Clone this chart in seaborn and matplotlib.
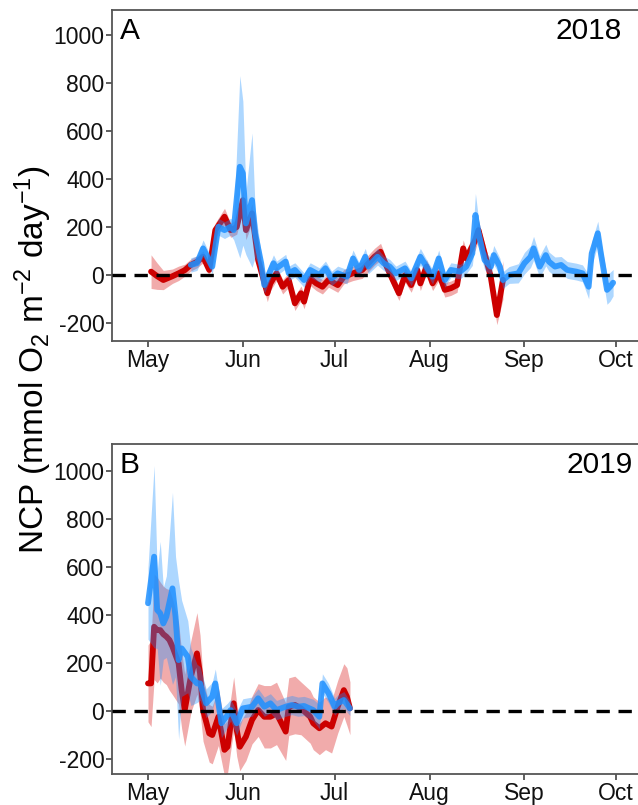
import numpy as np
import pandas as pd
import matplotlib
matplotlib.use("Agg")
import matplotlib.pyplot as plt
import matplotlib.dates as mdates
import seaborn as sns

# ---------------- data (days since May 1) ----------------
a_red_day = [1, 3, 5, 8, 10, 12, 14, 16, 18, 20, 22, 25, 27, 29, 31, 32, 34, 36, 39, 40,
             42, 44, 46, 48, 50, 51, 53, 55, 57, 59, 62, 64, 67, 70, 74, 76, 78, 80, 82, 84,
             86, 88, 89, 91, 93, 95, 97, 99, 101, 103, 104, 107, 108, 110, 112, 114, 116]
a_red_val = [14, -5, -21, -5, 7, 20, 42, 55, 76, 21, 187, 243, 187, 200, 312, 187, 257, 62, -76, -35,
             7, -49, -21, -118, -76, -111, -14, -35, -49, -21, -42, -7, 7, 21, 76, 97, 35, -21, -76, 0,
             -42, 21, -35, 35, -35, 7, -62, -55, -42, 111, 69, 146, 187, 90, -7, -167, -20]
a_red_err = [70, 55, 40, 30, 30, 25, 25, 25, 25, 25, 30, 35, 30, 30, 40, 40, 40, 35, 35, 30,
             30, 30, 30, 30, 30, 30, 30, 30, 30, 30, 30, 30, 30, 35, 35, 35, 30, 30, 30, 30,
             30, 30, 30, 30, 30, 30, 30, 30, 30, 35, 35, 40, 40, 40, 40, 40, 80]

a_blue_day = [14, 16, 18, 21, 23, 25, 27, 28, 30, 31, 32, 34, 35, 37, 38, 41, 42, 45, 46, 48,
              51, 53, 56, 58, 60, 62, 65, 67, 69, 71, 72, 75, 77, 79, 81, 84, 86, 89, 91, 93,
              95, 97, 99, 102, 104, 106, 107, 108, 110, 112, 113, 115, 116, 118, 121, 123, 125, 126, 128, 130,
              131, 133, 135, 137, 140, 142, 144, 145, 147, 148, 150, 151, 152]
a_blue_val = [42, 49, 111, 35, 201, 187, 201, 187, 451, 424, 215, 312, 174, 49, -42, 49, 28, 56, 7, 21,
              -21, 21, 0, 28, -14, 7, -7, 69, 21, 76, 35, 76, 49, 35, 7, 28, -14, 76, 35, -7,
              69, -21, 21, 14, 35, 90, 250, 174, 62, 35, 83, 35, -21, 0, 7, 49, 76, 111, 35, 83,
              56, 35, 42, 21, 14, 7, -49, 90, 174, 90, -62, -49, -32]
a_blue_err = [30, 30, 35, 30, 35, 35, 35, 40, 380, 300, 130, 280, 100, 40, 35, 35, 30, 30, 30, 30,
              30, 30, 30, 30, 30, 30, 30, 35, 30, 35, 30, 35, 30, 30, 30, 30, 30, 35, 30, 30,
              35, 30, 30, 30, 30, 50, 90, 60, 40, 35, 40, 35, 35, 35, 40, 45, 45, 50, 45, 45,
              40, 40, 35, 35, 35, 35, 50, 50, 50, 50, 60, 60, 55]

b_red_day = [0, 1, 2, 3, 4, 5, 6, 7, 8, 10, 11, 12, 14, 16, 17, 18, 20, 21, 23, 25,
             26, 28, 29, 30, 32, 34, 36, 38, 40, 42, 45, 46, 48, 50, 53, 54, 56, 58, 60, 61,
             62, 64, 65, 66]
b_red_val = [115, 115, 351, 337, 337, 320, 310, 296, 268, 199, 87, 4, 143, 240, 157, 4, -93, -100, -24, -162,
             -149, 32, -79, -149, -107, -37, 4, -24, -24, -10, -86, 18, 25, 11, -24, -51, -72, -51, -65, -24,
             18, 87, 60, 11]
b_red_err = [160, 180, 220, 220, 200, 200, 200, 210, 200, 170, 160, 150, 150, 170, 160, 130, 120, 120, 120, 110,
             110, 110, 110, 100, 100, 100, 110, 130, 130, 130, 120, 120, 120, 110, 110, 110, 110, 110, 110, 110,
             110, 110, 120, 110]

b_blue_day = [0, 2, 3, 4, 5, 6, 8, 9, 10, 11, 13, 14, 16, 17, 19, 21, 22, 24, 26, 27,
              29, 31, 34, 36, 38, 40, 42, 45, 47, 49, 51, 54, 56, 57, 59, 61, 62, 64, 66]
b_blue_val = [449, 643, 421, 407, 365, 393, 511, 393, 212, 261, 226, 143, 115, 115, 32, 60, 115, -51, -17, 4,
              -51, 11, 18, 53, 18, 32, 4, 18, 25, 18, 21, 4, -24, 115, 74, 18, 32, 46, 11]
b_blue_err = [150, 380, 160, 300, 150, 170, 400, 250, 330, 200, 150, 120, 80, 70, 60, 60, 60, 60, 50, 45,
              50, 40, 40, 40, 40, 40, 40, 40, 40, 40, 40, 45, 50, 40, 40, 35, 35, 35, 30]

y_ticks = [-200, 0, 200, 400, 600, 800, 1000]
month_labels = ["May", "Jun", "Jul", "Aug", "Sep", "Oct"]
panel_letters = ["A", "B"]
panel_years = [2018, 2019]

RED = "#CC0000"
RED_RIB = "#E04545"
BLUE = "#1E90FF"

# ---------------- style ----------------
sns.set_theme(style="white")
plt.rcParams["font.family"] = ["Liberation Sans", "DejaVu Sans"]
plt.rcParams["mathtext.default"] = "regular"

W, H = 638, 805
fig = plt.figure(figsize=(W / 100, H / 100), dpi=100)


def frame(days, vals, errs, year):
    base = pd.Timestamp(year=year, month=5, day=1)
    d = pd.DataFrame({"day": days, "val": vals, "err": errs})
    d["date"] = base + pd.to_timedelta(d["day"], unit="D")
    d["lo"] = d["val"] - d["err"]
    d["hi"] = d["val"] + d["err"]
    return d


panels = [
    dict(top=10, bottom=341, zero=275, year=2018,
         red=(a_red_day, a_red_val, a_red_err), blue=(a_blue_day, a_blue_val, a_blue_err),
         yr_right=622),
    dict(top=444, bottom=774, zero=711, year=2019,
         red=(b_red_day, b_red_val, b_red_err), blue=(b_blue_day, b_blue_val, b_blue_err),
         yr_right=633),
]

left_px, right_px = 112, 645
px_per_unit = 0.24
may_px, px_per_day = 148.0, 3.06

for i, p in enumerate(panels):
    ax = fig.add_axes([left_px / W, 1 - p["bottom"] / H,
                       (right_px - left_px) / W, (p["bottom"] - p["top"]) / H])
    yr = p["year"]
    r = frame(*p["red"], yr)
    b = frame(*p["blue"], yr)

    ax.fill_between(r["date"], r["lo"], r["hi"], color=RED_RIB, alpha=0.45, lw=0, zorder=1)
    sns.lineplot(data=r, x="date", y="val", color=RED, lw=4.2, ax=ax, zorder=2)
    ax.fill_between(b["date"], b["lo"], b["hi"], color=BLUE, alpha=0.36, lw=0, zorder=3)
    sns.lineplot(data=b, x="date", y="val", color=BLUE, lw=4.2, alpha=0.85, ax=ax, zorder=4)
    ax.axhline(0, color="black", lw=2.4, dashes=(4, 2.6), zorder=5)

    base = pd.Timestamp(year=yr, month=5, day=1)
    x0 = base + pd.Timedelta(days=(left_px - may_px) / px_per_day)
    x1 = base + pd.Timedelta(days=(right_px - may_px) / px_per_day)
    ax.set_xlim(x0, x1)
    ax.set_ylim(-(p["bottom"] - p["zero"]) / px_per_unit, (p["zero"] - p["top"]) / px_per_unit)

    ticks = [pd.Timestamp(year=yr, month=m, day=1) for m in range(5, 11)]
    ax.set_xticks(ticks)
    ax.set_xticklabels(month_labels)
    ax.set_yticks(y_ticks)
    ax.set_yticklabels([str(v) for v in y_ticks])
    ax.set_xlabel("")
    ax.set_ylabel("")
    ax.tick_params(axis="both", direction="out", length=4, width=1.1, color="#333333",
                   labelsize=16.5, labelcolor="#111111", pad=1.5, bottom=True, left=True)
    for s in ax.spines.values():
        s.set_color("#555555")
        s.set_linewidth(1.3)
    ax.grid(False)

    fig.text(120 / W, 1 - (p["top"] + 21) / H, panel_letters[i], fontsize=21.5,
             ha="left", va="center", color="black")
    fig.text(p["yr_right"] / W, 1 - (p["top"] + 21) / H, str(panel_years[i]), fontsize=21.5,
             ha="right", va="center", color="black")

fig.text(33 / W, 1 - 360 / H, r"NCP (mmol O$_2$ m$^{-2}$ day$^{-1}$)", fontsize=24,
         rotation=90, ha="center", va="center", color="black")

fig.savefig("out.png", dpi=100)
